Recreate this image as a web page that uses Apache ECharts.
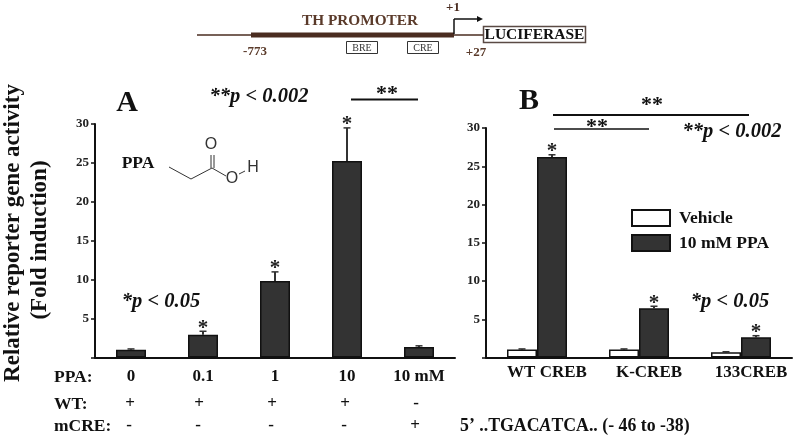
<!DOCTYPE html>
<html><head><meta charset="utf-8">
<style>html,body{margin:0;padding:0;background:#fff}#c{width:796px;height:439px}</style>
<script src="https://cdn.jsdelivr.net/npm/echarts@6/dist/echarts.min.js"></script>
</head><body><div id="c"></div>
<script>
const doseLabels=['0','0.1','1','10','10 mM'];
const doseValues=[1.0,2.93,9.83,25.25,1.35];
const doseErrTop=[1.1,3.37,11.0,29.5,1.5];
const doseStars=[false,true,true,true,false];
const wtRow=['+','+','+','+','-'];
const mcreRow=['-','-','-','-','+'];
const crebLabels=['WT CREB','K-CREB','133CREB'];
const vehicleValues=[1.05,1.05,0.7];
const vehicleErrTop=[1.12,1.12,0.75];
const ppaValues=[26.2,6.45,2.65];
const ppaErrTop=[26.5,6.7,2.85];
const ppaStars=[true,true,true];
const yTicks=[0,5,10,15,20,25,30];

const SERIF='"Liberation Serif","Times New Roman",serif';
const DARK='#333333', BROWN='#4a2c20';
const chart=echarts.init(document.getElementById('c'),null,{renderer:'canvas'});

function txt(x,y,s,size,o){o=o||{};return {type:'text',x:x,y:y,rotation:o.rot||0,silent:true,style:{
  text:s,font:(o.style||'')+' '+(o.weight||'bold')+' '+size+'px '+(o.family||SERIF),
  fill:o.fill||'#111',textAlign:o.align||'center',textVerticalAlign:'middle'}};}
function line(x1,y1,x2,y2,w,c){return {type:'line',silent:true,shape:{x1,y1,x2,y2},style:{stroke:c||'#111',lineWidth:w}};}
function box(x,y,w,h,lw,c){return {type:'rect',silent:true,shape:{x,y,width:w,height:h},style:{fill:'#fff',stroke:c||'#222',lineWidth:lw}};}

const rowX=[130,199,272,345,416], rowX2=[129,198,271,344,415];
const graphics=[
  // promoter map
  line(197,35,251,35,1.5,BROWN), line(251,35,454,35,5,BROWN), line(454,35,484,35,1.5,BROWN),
  line(454,34,454,19,1.5,'#111'), line(454,19,478,19,1.5,'#111'),
  {type:'polygon',silent:true,shape:{points:[[477,16],[483,19],[477,22]]},style:{fill:'#111'}},
  box(483.5,26.5,102,16,1.5,'#5a4a44'), txt(534.5,35,'LUCIFERASE',15.5),
  box(346.5,41.5,31,12,1,'#333'), txt(362,48,'BRE',10,{weight:'normal',fill:'#333'}),
  box(407.5,41.5,31,12,1,'#333'), txt(423,48,'CRE',10,{weight:'normal',fill:'#333'}),
  txt(360,21,'TH PROMOTER',15.3,{fill:'#5a3a2a'}),
  txt(255,52,'-773',13,{fill:'#5a3a2a'}), txt(476,53,'+27',13,{fill:'#5a3a2a'}), txt(453,8,'+1',13,{fill:'#4a2c20'}),
  // panel letters
  txt(127,103,'A',30), txt(529,101,'B',30),
  // significance
  txt(259,97,'**p < 0.002',20.5,{style:'italic'}),
  line(351,99.5,418,99.5,2), txt(387,94,'**',22),
  line(553,115,749,115,2), txt(652,105,'**',22),
  line(554,129,649,129,1.5), txt(597,127,'**',22),
  txt(732,132,'**p < 0.002',20.5,{style:'italic'}),
  txt(161,302,'*p < 0.05',20.5,{style:'italic'}),
  txt(730,302,'*p < 0.05',20.5,{style:'italic'}),
  // y title
  txt(13,233,'Relative reporter gene activity',23,{rot:Math.PI/2}),
  txt(40,240,'(Fold induction)',23,{rot:Math.PI/2}),
  // PPA structure
  txt(138,163,'PPA',17.5),
  {type:'polyline',silent:true,shape:{points:[[169,167],[191,179],[212,168],[226,176]]},style:{stroke:'#333',lineWidth:1,fill:null}},
  line(211,168,211,155,1,'#333'), line(214,168,214,155,1,'#333'), line(239,174,245,171,1,'#333'),
  txt(211,145,'O',16,{weight:'normal',family:'"Liberation Sans",sans-serif',fill:'#333'}),
  txt(232,179,'O',16,{weight:'normal',family:'"Liberation Sans",sans-serif',fill:'#333'}),
  txt(253,168,'H',16,{weight:'normal',family:'"Liberation Sans",sans-serif',fill:'#333'}),
  // row labels
  txt(54,377,'PPA:',17.5,{align:'left'}), txt(54,404,'WT:',17.5,{align:'left'}), txt(54,426,'mCRE:',17.5,{align:'left'}),
  // sequence
  {type:'text',x:460,y:426,silent:true,style:{text:"{a|5’ ..TGAC}{b|A}{a|TCA.. (- 46 to -38)}",textVerticalAlign:'middle',
    rich:{a:{font:'bold 17.8px '+SERIF,fill:'#111'},b:{font:'italic bold 17.8px '+SERIF,fill:'#111'}}}}
];
wtRow.forEach((s,i)=>graphics.push(txt(rowX[i],404,s,17,{})));
mcreRow.forEach((s,i)=>graphics.push(txt(rowX2[i],426,s,17,{})));

function yAxis(idx){return {type:'value',gridIndex:idx,min:0,max:30,interval:5,
  axisLine:{show:true,lineStyle:{color:'#111',width:2}},
  axisTick:{show:true,length:4,lineStyle:{color:'#111',width:1.5}},
  splitLine:{show:false},
  axisLabel:{margin:6,color:'#222',fontFamily:SERIF,fontWeight:'bold',fontSize:13,
    formatter:v=>yTicks.includes(v)&&v!==0?String(v):''}};}
function xAxis(idx,cats,size,margin,padding){return {type:'category',gridIndex:idx,data:cats,
  axisLine:{show:true,lineStyle:{color:'#111',width:2}},axisTick:{show:false},
  axisLabel:{interval:0,margin:margin,padding:padding,color:'#111',fontFamily:SERIF,fontWeight:'bold',fontSize:size}};}
const barStyle=f=>({color:f,borderColor:'#111',borderWidth:1.5});

function errSeries(name,xi,yi,tops,values,stars,offset){
  return {type:'custom',name:name,xAxisIndex:xi,yAxisIndex:yi,silent:true,z:1,
    data:tops.map((t,i)=>[i,t,values[i],stars[i]?1:0]),
    encode:{x:0,y:1},
    renderItem:(p,api)=>{
      const top=api.coord([api.value(0),api.value(1)]);
      const base=api.coord([api.value(0),api.value(2)]);
      const x=top[0]+offset;
      const kids=[
        {type:'line',shape:{x1:x,y1:base[1],x2:x,y2:top[1]},style:{stroke:DARK,lineWidth:2}},
        {type:'line',shape:{x1:x-3.5,y1:top[1],x2:x+3.5,y2:top[1]},style:{stroke:DARK,lineWidth:1.5}}];
      if(api.value(3)) kids.push({type:'text',style:{x:x,y:top[1]-3,text:'*',font:'bold 21px '+SERIF,fill:'#222',
        textAlign:'center',textVerticalAlign:'middle'}});
      return {type:'group',children:kids};
    }};
}

chart.setOption({
  animation:false,backgroundColor:'#fff',
  grid:[{left:95,width:360,top:124,height:233.5},{left:486,width:306,top:128,height:229.5}],
  xAxis:[xAxis(0,doseLabels,17,11,[0,0,0,0]),xAxis(1,crebLabels,17,7,[0,0,0,20])],
  yAxis:[yAxis(0),yAxis(1)],
  legend:{left:626,top:204,orient:'vertical',itemWidth:38,itemHeight:16,itemGap:7,icon:'rect',
    data:['Vehicle','10 mM PPA'],selectedMode:false,
    textStyle:{fontFamily:SERIF,fontWeight:'bold',fontSize:17.5,color:'#111',padding:[0,0,0,4]}},
  series:[
    {type:'bar',name:'Dose',xAxisIndex:0,yAxisIndex:0,data:doseValues,barWidth:30,itemStyle:barStyle(DARK),z:2},
    errSeries('doseErr',0,0,doseErrTop,doseValues,doseStars,0),
    {type:'bar',name:'Vehicle',xAxisIndex:1,yAxisIndex:1,data:vehicleValues,barWidth:30,barGap:'0%',itemStyle:barStyle('#fff'),z:2},
    {type:'bar',name:'10 mM PPA',xAxisIndex:1,yAxisIndex:1,data:ppaValues,barWidth:30,barGap:'0%',itemStyle:barStyle(DARK),z:2},
    errSeries('vehErr',1,1,vehicleErrTop,vehicleValues,[false,false,false],-15),
    errSeries('ppaErr',1,1,ppaErrTop,ppaValues,ppaStars,15)
  ],
  graphic:graphics
});
</script></body></html>
